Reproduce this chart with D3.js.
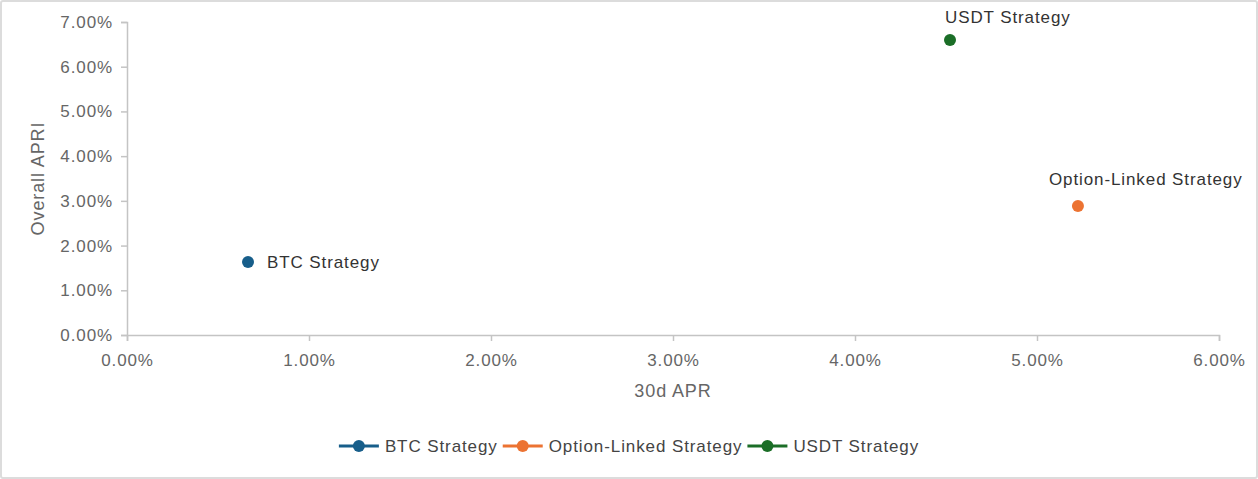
<!DOCTYPE html>
<html>
<head>
<meta charset="utf-8">
<script src="https://cdn.jsdelivr.net/npm/d3@7"></script>
<style>
  body { margin: 0; background: #fff; }
  svg text { font-family: "Liberation Sans", Arial, sans-serif; }
</style>
</head>
<body>
<div id="chart"></div>
<script>
// data
var series = ['BTC Strategy', 'Option-Linked Strategy', 'USDT Strategy'];
var apr30d = [0.665, 5.225, 4.522];      // x, percent
var overallApr = [1.633, 2.885, 6.598];  // y, percent
var colors = ['#175e8a', '#ec7332', '#1b6e27'];
var xTicks = [0, 1, 2, 3, 4, 5, 6];
var yTicks = [0, 1, 2, 3, 4, 5, 6, 7];

// label placement (relative to the point)
var labelDx = [19, -29, -5];
var labelDy = [0, -27, -23];

var width = 1258, height = 479;
var mLeft = 127, mRight = 1219, mTop = 22, mBottom = 335;

var svg = d3.select('#chart').append('svg')
    .attr('width', width)
    .attr('height', height);

// outer border
svg.append('rect')
    .attr('x', 1).attr('y', 1)
    .attr('width', width - 2).attr('height', height - 2)
    .attr('rx', 2)
    .attr('fill', '#fff')
    .attr('stroke', '#dcdcdc')
    .attr('stroke-width', 2);

var x = d3.scaleLinear().domain([0, 6]).range([mLeft, mRight]);
var y = d3.scaleLinear().domain([0, 7]).range([mBottom, mTop]);

var fmt = function (d) { return d.toFixed(2) + '%'; };

// y axis
var gy = svg.append('g')
    .attr('transform', 'translate(' + mLeft + ',0)')
    .call(d3.axisLeft(y).tickValues(yTicks).tickFormat(fmt).tickSize(6).tickPadding(8));
// x axis
var gx = svg.append('g')
    .attr('transform', 'translate(0,' + mBottom + ')')
    .call(d3.axisBottom(x).tickValues(xTicks).tickFormat(fmt).tickSize(6).tickPadding(8));

[gx, gy].forEach(function (g) {
    g.select('.domain').attr('stroke', '#c4c4c4').attr('stroke-width', 1.5);
    g.selectAll('.tick line').attr('stroke', '#c4c4c4').attr('stroke-width', 1.5);
    g.selectAll('.tick text')
        .attr('fill', '#666')
        .style('font-size', '17px')
        .style('letter-spacing', '0.9px');
});
gx.selectAll('.tick text').attr('dy', '1em');

// axis titles
svg.append('text')
    .attr('x', (mLeft + mRight) / 2).attr('y', 397)
    .attr('text-anchor', 'middle')
    .attr('fill', '#666')
    .style('font-size', '18px')
    .style('letter-spacing', '0.9px')
    .text('30d APR');

svg.append('text')
    .attr('transform', 'translate(44,' + ((mTop + mBottom) / 2) + ') rotate(-90)')
    .attr('text-anchor', 'middle')
    .attr('fill', '#666')
    .style('font-size', '18px')
    .style('letter-spacing', '0.9px')
    .text('Overall APRI');

// points
var pts = svg.append('g').selectAll('g').data(series).enter().append('g');
pts.append('circle')
    .attr('cx', function (d, i) { return x(apr30d[i]); })
    .attr('cy', function (d, i) { return y(overallApr[i]); })
    .attr('r', 6)
    .attr('fill', function (d, i) { return colors[i]; });
pts.append('text')
    .attr('x', function (d, i) { return x(apr30d[i]) + labelDx[i]; })
    .attr('y', function (d, i) { return y(overallApr[i]) + labelDy[i]; })
    .attr('dy', '0.35em')
    .attr('fill', '#333')
    .style('font-size', '17px')
    .style('letter-spacing', '0.9px')
    .text(function (d) { return d; });

// legend
var legend = svg.append('g').attr('transform', 'translate(0,446)');
var item = legend.selectAll('g').data(series).enter().append('g');
item.append('line')
    .attr('x1', 0).attr('x2', 40).attr('y1', 0).attr('y2', 0)
    .attr('stroke', function (d, i) { return colors[i]; })
    .attr('stroke-width', 3);
item.append('circle')
    .attr('cx', 20).attr('cy', 0).attr('r', 6)
    .attr('fill', function (d, i) { return colors[i]; });
item.append('text')
    .attr('x', 46).attr('dy', '0.35em')
    .attr('fill', '#444')
    .style('font-size', '17px')
    .style('letter-spacing', '0.9px')
    .text(function (d) { return d; });

// lay out legend items in a row, centred
var gap = 5, offs = [], total = 0;
item.each(function () {
    var w = this.getBBox().width;
    offs.push(total);
    total += w + gap;
});
total -= gap;
var start = width / 2 - total / 2;
item.attr('transform', function (d, i) { return 'translate(' + (start + offs[i]) + ',0)'; });
</script>
</body>
</html>
